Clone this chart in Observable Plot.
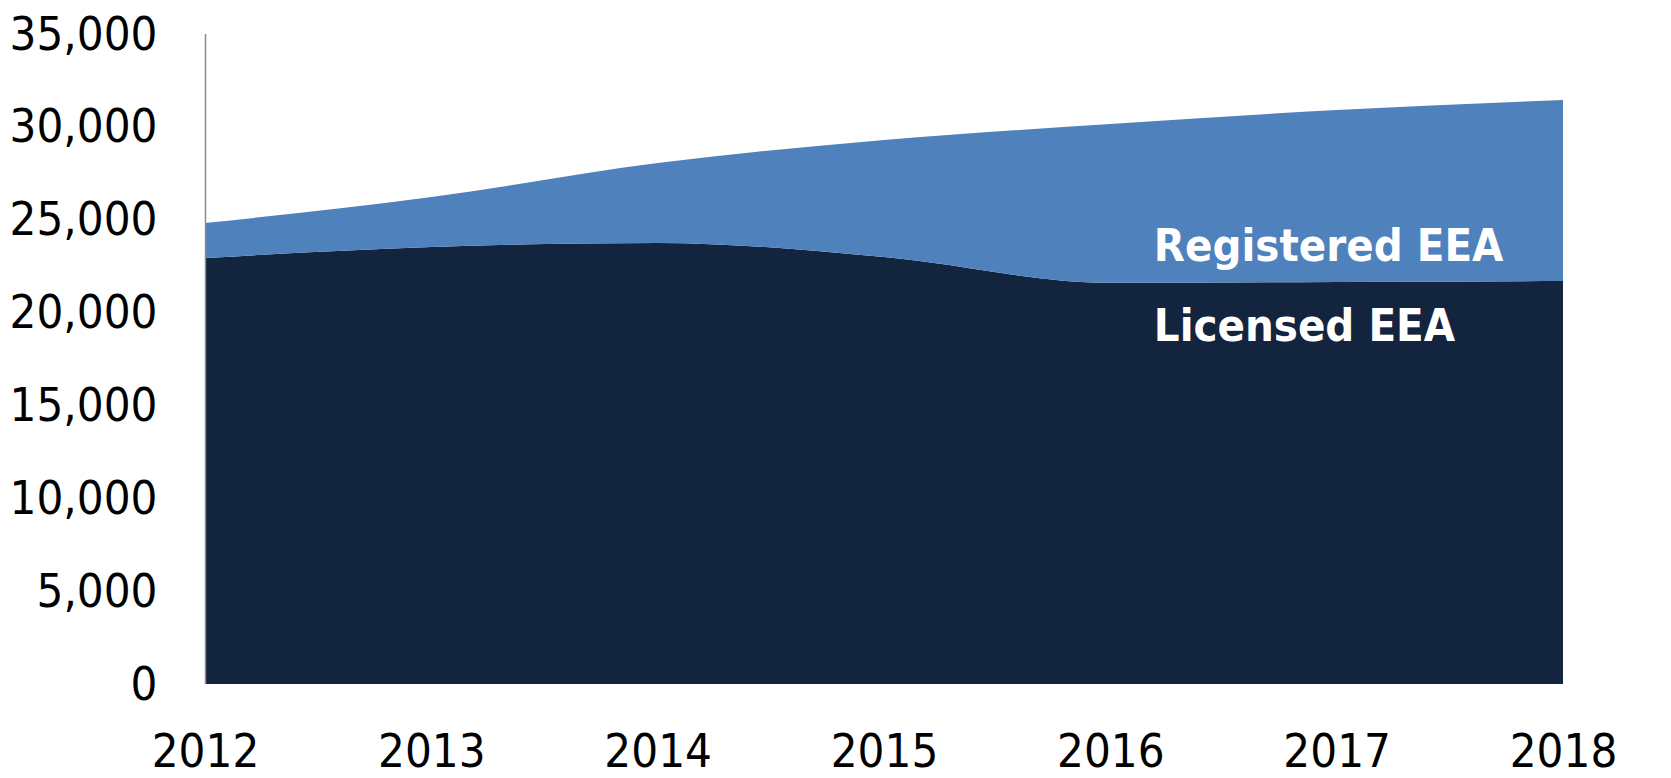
<!DOCTYPE html>
<html>
<head>
<meta charset="utf-8">
<script src="https://cdn.jsdelivr.net/npm/d3@7"></script>
<script src="https://cdn.jsdelivr.net/npm/@observablehq/plot@0.6"></script>
<style>
  html, body { margin: 0; padding: 0; background: #fff; }
  #chart svg { display: block; }
</style>
</head>
<body>
<div id="chart"></div>
<script>
const years = [2012, 2013, 2014, 2015, 2016, 2017, 2018];
const licensed = [22940, 23530, 23750, 22990, 21600, 21650, 21700];
const registered = [1880, 2690, 4300, 6300, 8550, 9260, 9750];
const seriesNames = ["Licensed EEA", "Registered EEA"];
const seriesColors = ["#13243F", "#4F81BD"];
const yTicks = [0, 5000, 10000, 15000, 20000, 25000, 30000, 35000];
const labelText = ["Registered EEA", "Licensed EEA"];
const labelYear = [2016.19, 2016.19];
const labelValue = [22830, 18520];

const rows = [];
years.forEach((y, i) => rows.push({year: y, series: seriesNames[0], value: licensed[i]}));
years.forEach((y, i) => rows.push({year: y, series: seriesNames[1], value: registered[i]}));
const labels = labelText.map((t, i) => ({text: t, year: labelYear[i], value: labelValue[i]}));

const font = "'Liberation Sans Narrow', 'Arial Narrow', 'DejaVu Sans Condensed', sans-serif";

const chart = Plot.plot({
  width: 1671,
  height: 778,
  marginLeft: 205,
  marginRight: 108,
  marginTop: 34,
  marginBottom: 94,
  style: {fontFamily: font, fontSize: "47px", color: "#000", background: "#fff"},
  x: {domain: [2012, 2018], ticks: years, tickFormat: d => String(d), tickSize: 0, tickPadding: 49, label: null},
  y: {domain: [0, 35000], ticks: yTicks, tickFormat: d3.format(","), tickSize: 0, tickPadding: 48, label: null},
  color: {domain: seriesNames, range: seriesColors},
  marks: [
    Plot.areaY(rows, {x: "year", y: "value", fill: "series", curve: "monotone-x", order: seriesNames}),
    Plot.ruleX([years[0]], {y1: yTicks[0], y2: yTicks[yTicks.length - 1], stroke: "#8c8c8c", strokeWidth: 1.5}),
    Plot.text(labels, {x: "year", y: "value", text: "text", fill: "#fff", textAnchor: "start", lineAnchor: "bottom",
      fontWeight: "bold", fontSize: 45, fontFamily: font})
  ]
});
document.getElementById("chart").appendChild(chart);
</script>
</body>
</html>
